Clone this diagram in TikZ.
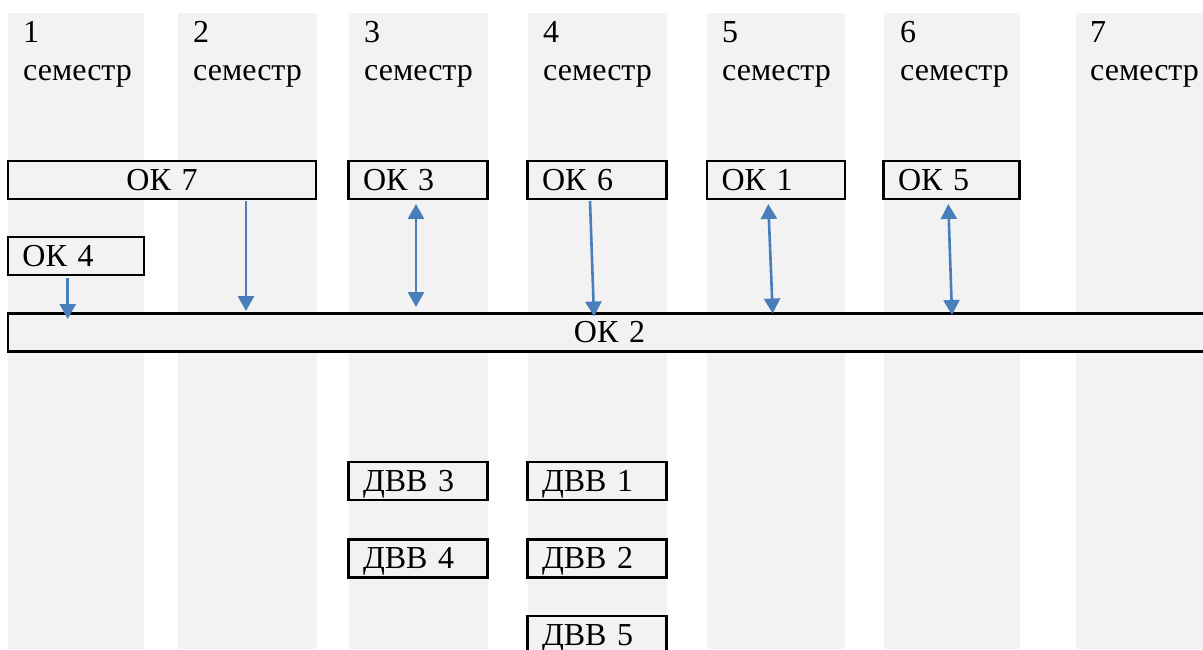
\documentclass[tikz,border=0pt]{standalone}
\usepackage{fontspec}
\setmainfont{Liberation Serif}
\usetikzlibrary{arrows.meta,calc}
\definecolor{colgray}{HTML}{F2F2F2}
\definecolor{arrblue}{HTML}{4A7EBB}
\begin{document}
\begin{tikzpicture}[x=1pt,y=-1pt,
  txt/.style={font=\fontsize{32}{38}\selectfont},
  sem/.style={txt, anchor=base west, align=left, inner sep=0pt},
  box/.style={txt, draw=black, line width=2.2pt, fill=colgray, anchor=north west,
    outer sep=0pt, inner xsep=14.5pt, inner ysep=0pt, minimum height=38pt,
    text height=24pt, text depth=4pt, text width=#1-29pt, align=left},
  cbox/.style={box=#1, align=center},
  arr/.style={draw=arrblue, line width=2.6pt, -{Triangle[width=16pt,length=15pt]}},
  darr/.style={draw=arrblue, line width=2.6pt, {Triangle[width=16pt,length=15pt]}-{Triangle[width=16pt,length=15pt]}}]
\useasboundingbox (0,0) rectangle (1203,649);
\clip (0,0) rectangle (1203,649);
\fill[white] (0,0) rectangle (1203,649);
% semester columns
\fill[colgray] (7.5,13) rectangle (144,649);
\fill[colgray] (178,13) rectangle (317,649);
\fill[colgray] (348.5,13) rectangle (487.5,649);
\fill[colgray] (528,13) rectangle (667,649);
\fill[colgray] (707,13) rectangle (845,649);
\fill[colgray] (884,13) rectangle (1020,649);
\fill[colgray] (1076,13) rectangle (1203,649);
% semester labels (base = baseline of last line)
\node[sem] (s1) at (23,80) {1\\семестр};
\node[sem] (s2) at (193,80) {2\\семестр};
\node[sem] (s3) at (364,80) {3\\семестр};
\node[sem] (s4) at (543,80) {4\\семестр};
\node[sem] (s5) at (722,80) {5\\семестр};
\node[sem] (s6) at (900,80) {6\\семестр};
\node[sem] (s7) at (1090,80) {7\\семестр};
% boxes
\node[cbox=308pt] (ok7) at (8,161) {ОК 7};
\node[box=139pt] (ok3) at (348.5,161) {ОК 3};
\node[box=139pt] (ok6) at (527.5,161) {ОК 6};
\node[box=138pt] (ok1) at (707,161) {ОК 1};
\node[box=136pt] (ok5) at (883.5,161) {ОК 5};
\node[box=136pt] (ok4) at (8,237) {ОК 4};
\node[cbox=1203pt] (ok2) at (8,313.5) {ОК 2};
\node[box=139pt] (dvv3) at (348.5,462) {ДВВ 3};
\node[box=139pt] (dvv4) at (348.5,539.5) {ДВВ 4};
\node[box=139pt] (dvv1) at (527.5,462) {ДВВ 1};
\node[box=139pt] (dvv2) at (527.5,539.5) {ДВВ 2};
\node[box=139pt] (dvv5) at (527.5,616) {ДВВ 5};
% connectors
\draw[arr] ($(ok4.south west)+(59.7,3)$) -- ($(ok2.north west)+(59.7,5.5)$);
\draw[arr] ($(ok7.south west)+(238,2)$) -- ($(ok2.north west)+(238,-2.5)$);
\draw[darr] ($(ok3.south west)+(67.5,5)$) -- ($(ok2.north west)+(408,-6.5)$);
\draw[arr] ($(ok6.south west)+(62.5,2)$) -- ($(ok2.north west)+(586,3)$);
\draw[darr] ($(ok1.south west)+(61.3,5)$) -- ($(ok2.north west)+(764.7,0)$);
\draw[darr] ($(ok5.south west)+(64.8,5)$) -- ($(ok2.north west)+(944,1.5)$);
\end{tikzpicture}
\end{document}
